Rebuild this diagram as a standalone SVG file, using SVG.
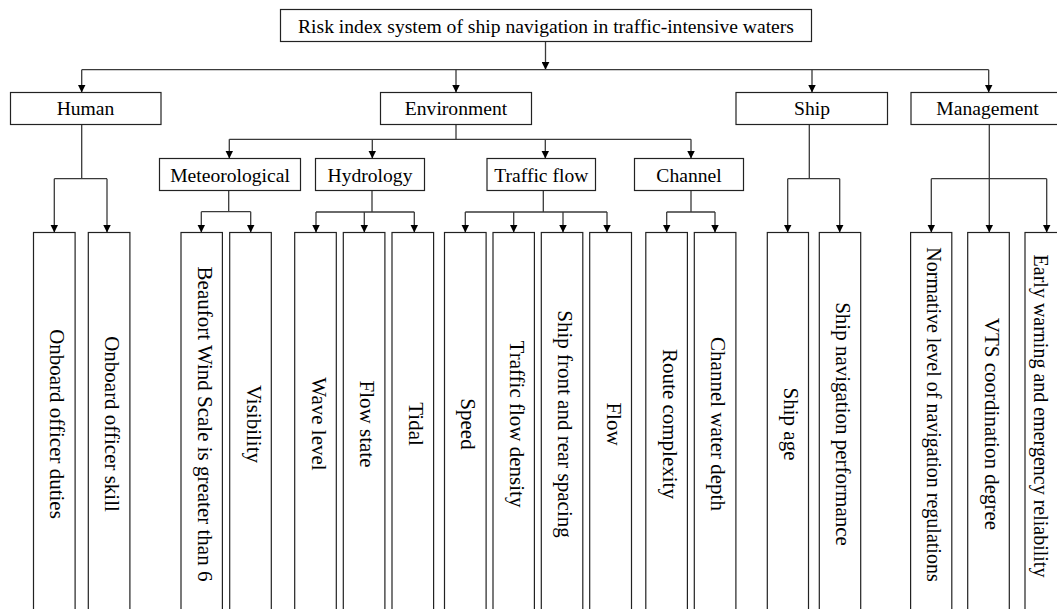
<svg xmlns="http://www.w3.org/2000/svg" width="1057" height="609" viewBox="0 0 1057 609">
<style>
.box{fill:#fff;stroke:#222;stroke-width:1.2}
.t{font-family:"Liberation Serif","Times New Roman",serif;font-size:19.6px;fill:#000;text-anchor:middle}
.v{font-family:"Liberation Serif","Times New Roman",serif;font-size:21px;fill:#000;text-anchor:middle}
.s{font-size:20px}
.c{fill:none;stroke:#3a3a3a;stroke-width:1.3}
.a{fill:none;stroke:#3a3a3a;stroke-width:1.3;marker-end:url(#ah)}
</style>
<defs>
<marker id="ah" viewBox="0 0 8 8" refX="8" refY="4" markerWidth="8" markerHeight="8" markerUnits="userSpaceOnUse" orient="auto">
<path d="M0,0 L8,4 L0,8 z" fill="#000"/>
</marker>
</defs>
<rect width="1057" height="609" fill="#fff"/>
<g id="connectors">
<path class="a" d="M545.5,41.7 V69.7"/>
<path class="c" d="M81.7,69.7 H988.7"/>
<path class="a" d="M81.7,69.7 V92.5"/>
<path class="a" d="M456,69.7 V92.5"/>
<path class="a" d="M812,69.7 V92.5"/>
<path class="a" d="M988.7,69.7 V92.5"/>
<path class="c" d="M81.7,124.5 V178.7 M54.3,178.7 H107"/>
<path class="a" d="M54.3,178.7 V232.5"/>
<path class="a" d="M107,178.7 V232.5"/>
<path class="c" d="M456,124.5 V139.3 M229.3,139.3 H691"/>
<path class="a" d="M229.3,139.3 V158.5"/>
<path class="a" d="M372.3,139.3 V158.5"/>
<path class="a" d="M545.3,139.3 V158.5"/>
<path class="a" d="M691,139.3 V158.5"/>
<path class="c" d="M228.7,190.5 V211.7 M201.3,211.7 H250.7"/>
<path class="a" d="M201.3,211.7 V232.5"/>
<path class="a" d="M250.7,211.7 V232.5"/>
<path class="c" d="M372,190.5 V212 M316,212 H414.3"/>
<path class="a" d="M316,212 V232.5"/>
<path class="a" d="M364.3,212 V232.5"/>
<path class="a" d="M414.3,212 V232.5"/>
<path class="c" d="M543.3,190.5 V212 M465.3,212 H607"/>
<path class="a" d="M465.3,212 V232.5"/>
<path class="a" d="M513.7,212 V232.5"/>
<path class="a" d="M563,212 V232.5"/>
<path class="a" d="M607,212 V232.5"/>
<path class="c" d="M691,190.5 V212 M666.7,212 H715"/>
<path class="a" d="M666.7,212 V232.5"/>
<path class="a" d="M715,212 V232.5"/>
<path class="c" d="M809.3,124.5 V178.7 M787.7,178.7 H839.7"/>
<path class="a" d="M787.7,178.7 V232.5"/>
<path class="a" d="M839.7,178.7 V232.5"/>
<path class="c" d="M989.3,124.5 V178.7 M931.3,178.7 H1046.7"/>
<path class="a" d="M931.3,178.7 V232.5"/>
<path class="a" d="M989.3,178.7 V232.5"/>
<path class="a" d="M1046.7,178.7 V232.5"/>
</g>
<g id="root"><rect class="box" x="280.5" y="9.5" width="531" height="32"/><text class="t" x="546" y="33">Risk index system of ship navigation in traffic-intensive waters</text></g>
<g id="human"><rect class="box" x="10.5" y="92.5" width="150.5" height="32"/><text class="t" x="85.5" y="115">Human</text></g>
<g id="environment"><rect class="box" x="380.5" y="92.5" width="151" height="32"/><text class="t" x="456" y="115">Environment</text></g>
<g id="ship"><rect class="box" x="736" y="92.5" width="151.5" height="32"/><text class="t" x="812" y="115">Ship</text></g>
<g id="management"><rect class="box" x="911" y="92.5" width="152" height="32"/><text class="t" x="987.5" y="115">Management</text></g>
<g id="meteorological"><rect class="box" x="159.5" y="158.5" width="141" height="32"/><text class="t" x="230" y="181.5">Meteorological</text></g>
<g id="hydrology"><rect class="box" x="315.5" y="158.5" width="109" height="32"/><text class="t" x="370" y="181.5">Hydrology</text></g>
<g id="traffic-flow"><rect class="box" x="487" y="158.5" width="108.5" height="32"/><text class="t" x="541.3" y="181.5">Traffic flow</text></g>
<g id="channel"><rect class="box" x="634.5" y="158.5" width="109" height="32"/><text class="t" x="689" y="181.5">Channel</text></g>
<g id="leaf1"><rect class="box" x="33.5" y="232.5" width="41.6" height="385"/><text class="v" transform="translate(54.3,424) rotate(90)" y="4">Onboard officer duties</text></g>
<g id="leaf2"><rect class="box" x="88.3" y="232.5" width="41.6" height="385"/><text class="v" transform="translate(109.1,424) rotate(90)" y="4">Onboard officer skill</text></g>
<g id="leaf3"><rect class="box" x="181" y="232.5" width="41.4" height="385"/><text class="v" transform="translate(201.7,424) rotate(90)" y="4">Beaufort Wind Scale is greater than 6</text></g>
<g id="leaf4"><rect class="box" x="229.7" y="232.5" width="41.6" height="385"/><text class="v" transform="translate(250.5,424) rotate(90)" y="4">Visibility</text></g>
<g id="leaf5"><rect class="box" x="294.7" y="232.5" width="41.6" height="385"/><text class="v" transform="translate(315.5,424) rotate(90)" y="4">Wave level</text></g>
<g id="leaf6"><rect class="box" x="343.3" y="232.5" width="41.6" height="385"/><text class="v" transform="translate(364.1,424) rotate(90)" y="4">Flow state</text></g>
<g id="leaf7"><rect class="box" x="392" y="232.5" width="41.6" height="385"/><text class="v" transform="translate(412.8,424) rotate(90)" y="4">Tidal</text></g>
<g id="leaf8"><rect class="box" x="444.5" y="232.5" width="41.6" height="385"/><text class="v" transform="translate(465.3,424) rotate(90)" y="4">Speed</text></g>
<g id="leaf9"><rect class="box" x="493" y="232.5" width="41.4" height="385"/><text class="v" transform="translate(513.7,424) rotate(90)" y="4">Traffic flow density</text></g>
<g id="leaf10"><rect class="box" x="541.3" y="232.5" width="41.5" height="385"/><text class="v" transform="translate(562,424) rotate(90)" y="4">Ship front and rear spacing</text></g>
<g id="leaf11"><rect class="box" x="589.7" y="232.5" width="41.8" height="385"/><text class="v" transform="translate(610.6,424) rotate(90)" y="4">Flow</text></g>
<g id="leaf12"><rect class="box" x="645.8" y="232.5" width="41.6" height="385"/><text class="v" transform="translate(666.6,424) rotate(90)" y="4">Route complexity</text></g>
<g id="leaf13"><rect class="box" x="694.3" y="232.5" width="41.6" height="385"/><text class="v" transform="translate(715.1,424) rotate(90)" y="4">Channel water depth</text></g>
<g id="leaf14"><rect class="box" x="767.3" y="232.5" width="41.2" height="385"/><text class="v" transform="translate(787.9,424) rotate(90)" y="4">Ship age</text></g>
<g id="leaf15"><rect class="box" x="819.3" y="232.5" width="41.4" height="385"/><text class="v" transform="translate(840,424) rotate(90)" y="4">Ship navigation performance</text></g>
<g id="leaf16"><rect class="box" x="910.6" y="232.5" width="41.2" height="385"/><text class="v s" transform="translate(931.2,414.5) rotate(90)" y="4">Normative level of navigation regulations</text></g>
<g id="leaf17"><rect class="box" x="967.7" y="232.5" width="41.6" height="385"/><text class="v" transform="translate(988.5,424) rotate(90)" y="4">VTS coordination degree</text></g>
<g id="leaf18"><rect class="box" x="1025" y="232.5" width="41.6" height="385"/><text class="v s" transform="translate(1037.5,416) rotate(90)" y="4">Early warning and emergency reliability</text></g>
</svg>
